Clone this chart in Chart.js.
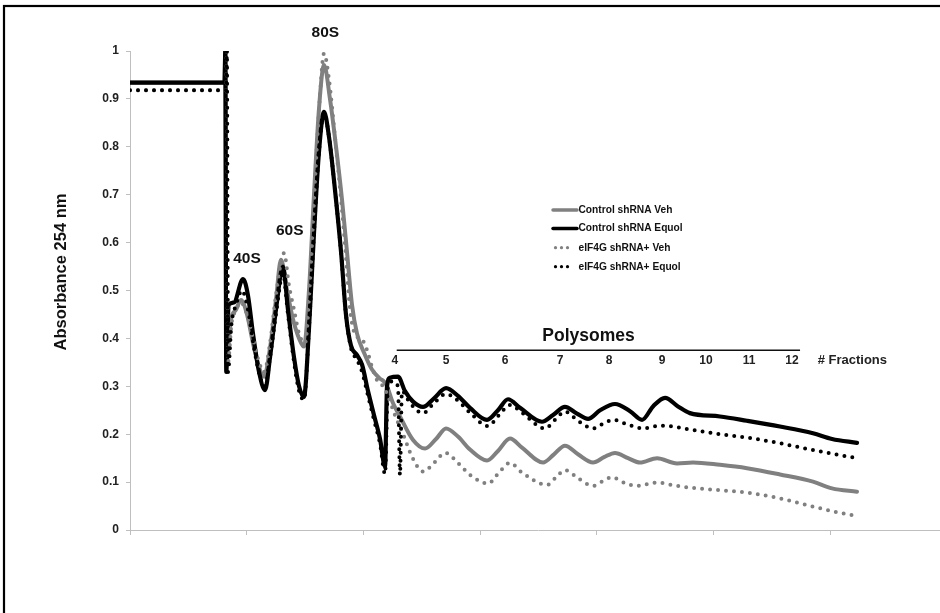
<!DOCTYPE html>
<html>
<head>
<meta charset="utf-8">
<script src="https://cdn.jsdelivr.net/npm/chart.js@4.4.1/dist/chart.umd.min.js"></script>
<style>
  html, body { margin: 0; padding: 0; background: #fff; overflow: hidden; width: 940px; height: 613px; }
  #wrap { position: absolute; left: 0; top: 0; width: 960px; height: 613px; }
  canvas { display: block; }
</style>
</head>
<body>
<div id="wrap"><canvas id="c" width="960" height="613" style="width:960px;height:613px"></canvas></div>
<script>
// ---- data (x = position along gradient, y = absorbance 254 nm) ----
const seriesNames = ['Control shRNA Veh', 'Control shRNA Equol', 'eIF4G shRNA+ Veh', 'eIF4G shRNA+ Equol'];

const ctrlVehX = [0,8.1,8.17,8.25,8.66,9.09,9.51,10.03,10.54,11.06,11.49,12.0,12.51,12.94,13.46,13.97,14.49,14.91,15.34,15.77,16.2,16.63,17.14,17.66,18.17,18.6,19.03,19.46,20.06,20.74,21.43,21.77,22.03,22.54,23.14,24.26,25.29,26.23,27.09,28.11,29.14,30.6,31.54,32.57,33.6,35.4,36.34,37.28,38.4,39.69,40.63,41.57,42.69,43.71,45.17,46.89,48.26,50.57,52.88,55.71,58.54,60.17,62.31];
const ctrlVehY = [0.934,0.934,1.0,0.35,0.44,0.46,0.48,0.45,0.39,0.34,0.32,0.38,0.48,0.564,0.50,0.44,0.40,0.383,0.50,0.70,0.88,0.971,0.90,0.80,0.69,0.58,0.47,0.41,0.37,0.335,0.316,0.31,0.30,0.265,0.237,0.188,0.17,0.19,0.212,0.195,0.168,0.145,0.165,0.191,0.172,0.141,0.158,0.176,0.158,0.141,0.152,0.161,0.15,0.141,0.15,0.139,0.141,0.136,0.129,0.116,0.101,0.087,0.08];

const ctrlEquolX = [0,8.1,8.17,8.25,8.45,8.9,9.69,10.11,10.54,11.06,11.57,12.0,12.51,13.11,13.54,14.06,14.49,14.91,15.34,15.77,16.2,16.63,17.06,17.57,18.09,18.51,18.94,19.46,19.89,20.4,20.91,21.43,21.86,22.03,22.29,22.97,23.57,24.26,25.11,26.06,27.09,28.11,29.14,30.6,31.54,32.4,33.43,35.31,36.26,37.28,38.31,39.26,40.29,41.57,42.86,43.89,44.83,45.86,46.97,47.99,50.57,52.88,55.71,58.54,60.17,62.31];
const ctrlEquolY = [0.934,0.934,1.0,0.33,0.47,0.475,0.524,0.49,0.41,0.33,0.292,0.36,0.46,0.55,0.46,0.36,0.30,0.278,0.42,0.62,0.79,0.873,0.82,0.71,0.58,0.45,0.385,0.365,0.345,0.29,0.24,0.19,0.132,0.30,0.318,0.32,0.29,0.268,0.257,0.275,0.296,0.28,0.255,0.23,0.25,0.273,0.255,0.226,0.24,0.257,0.243,0.232,0.25,0.263,0.248,0.23,0.258,0.276,0.258,0.244,0.237,0.228,0.216,0.202,0.19,0.182];

const eifVehX = [0,8.22,8.3,8.4,8.7,9.09,9.51,10.03,10.54,11.06,11.49,12.0,12.51,13.2,13.63,14.06,14.49,15.0,15.43,15.86,16.29,16.63,17.06,17.57,18.09,18.51,18.86,19.37,19.8,20.31,20.74,21.17,21.69,22.11,22.71,23.49,24.17,25.11,26.06,27.0,28.11,29.14,30.69,31.63,32.57,33.6,35.74,36.51,37.28,38.4,39.69,40.54,41.31,42.43,43.46,45.17,46.89,48.6,50.57,52.88,55.71,58.54,60.43,62.31];
const eifVehY = [0.918,0.918,1.0,0.35,0.43,0.46,0.475,0.45,0.40,0.35,0.33,0.39,0.49,0.578,0.51,0.46,0.41,0.39,0.52,0.73,0.91,0.995,0.94,0.82,0.69,0.57,0.46,0.405,0.40,0.376,0.34,0.313,0.30,0.28,0.24,0.195,0.153,0.122,0.14,0.161,0.14,0.115,0.097,0.12,0.14,0.12,0.094,0.11,0.125,0.108,0.092,0.102,0.11,0.098,0.092,0.099,0.092,0.087,0.083,0.078,0.066,0.049,0.038,0.029];

const eifEquolX = [0,8.22,8.3,8.4,8.7,9.09,9.6,10.11,10.63,11.14,11.57,12.0,12.51,13.11,13.54,14.06,14.49,14.91,15.34,15.77,16.2,16.63,17.06,17.57,18.09,18.51,18.94,19.46,19.89,20.4,20.91,21.43,21.86,22.11,22.46,22.97,23.14,23.31,24.0,25.11,26.06,27.09,28.11,29.14,30.69,31.63,32.57,33.6,35.57,36.43,37.28,38.4,39.69,40.54,41.4,42.69,43.97,45.43,47.99,49.97,53.14,55.71,58.29,60.0,62.31];
const eifEquolY = [0.918,0.918,1.0,0.33,0.43,0.47,0.50,0.46,0.38,0.32,0.30,0.36,0.45,0.535,0.45,0.35,0.29,0.272,0.42,0.62,0.79,0.87,0.82,0.71,0.58,0.45,0.38,0.355,0.33,0.28,0.23,0.18,0.117,0.30,0.31,0.30,0.115,0.29,0.265,0.244,0.265,0.284,0.27,0.245,0.217,0.24,0.261,0.245,0.212,0.23,0.247,0.228,0.212,0.222,0.23,0.22,0.212,0.218,0.21,0.202,0.192,0.181,0.168,0.16,0.15];

const yTickLabels = ['0','0.1','0.2','0.3','0.4','0.5','0.6','0.7','0.8','0.9','1'];

// peak labels (x, y in data units)
const peakNames = ['40S', '60S', '80S'];
const peakX = [10.03, 13.69, 16.74];
const peakY = [0.566, 0.625, 1.038];

// polysome fraction numbers along gradient
const fractionLabels = ['4','5','6','7','8','9','10','11','12'];
const fractionX = [22.71, 27.09, 32.14, 36.86, 41.06, 45.6, 49.37, 53.06, 56.74];
const fractionY = 0.353;
const polysomeSpan = [22.86, 57.43];
const polysomeLineY = 0.376;
const polysomeTextX = 39.3;
const polysomeTextY = 0.395;
const fractionsTitleX = 58.94;

// ---- build ----
const FONT = "'Liberation Sans', Arial, Helvetica, sans-serif";
const GRAY = '#808080';
const BLACK = '#000000';

function pts(xs, ys) { return xs.map((x, i) => ({ x: x, y: ys[i] })); }

const styles = [
  { color: GRAY, dash: [], width: 4, order: 3 },
  { color: BLACK, dash: [], width: 4.2, order: 2 },
  { color: GRAY, dash: [0, 8], width: 4, order: 1 },
  { color: BLACK, dash: [0, 8], width: 4, order: 0 }
];
const seriesData = [pts(ctrlVehX, ctrlVehY), pts(ctrlEquolX, ctrlEquolY), pts(eifVehX, eifVehY), pts(eifEquolX, eifEquolY)];

const datasets = seriesNames.map((n, i) => ({
  label: n,
  data: seriesData[i],
  borderColor: styles[i].color,
  backgroundColor: styles[i].color,
  borderWidth: styles[i].width,
  borderDash: styles[i].dash,
  borderCapStyle: 'round',
  borderJoinStyle: 'round',
  pointRadius: 0,
  cubicInterpolationMode: 'monotone',
  fill: false,
  order: styles[i].order
}));

const decor = {
  id: 'decor',
  beforeDraw(chart) {
    const ctx = chart.ctx;
    ctx.save();
    ctx.fillStyle = '#fff';
    ctx.fillRect(0, 0, chart.width, chart.height);
    ctx.strokeStyle = '#000';
    ctx.lineWidth = 2.2;
    ctx.strokeRect(4, 6, 2000, 2000);
    ctx.restore();
  },
  afterDatasetsDraw(chart) {
    const ctx = chart.ctx;
    const xs = chart.scales.x, ys = chart.scales.y;
    ctx.save();
    ctx.fillStyle = '#111';
    ctx.textAlign = 'center';
    ctx.textBaseline = 'middle';
    // peak labels
    ctx.font = 'bold 15.5px ' + FONT;
    peakNames.forEach((t, i) => ctx.fillText(t, xs.getPixelForValue(peakX[i]), ys.getPixelForValue(peakY[i])));
    // polysomes
    ctx.font = 'bold 17.5px ' + FONT;
    ctx.textBaseline = 'alphabetic';
    ctx.fillText('Polysomes', xs.getPixelForValue(polysomeTextX), ys.getPixelForValue(polysomeTextY));
    ctx.strokeStyle = '#111';
    ctx.lineWidth = 1.5;
    ctx.beginPath();
    const ly = Math.round(ys.getPixelForValue(polysomeLineY)) + 0.25;
    ctx.moveTo(xs.getPixelForValue(polysomeSpan[0]), ly);
    ctx.lineTo(xs.getPixelForValue(polysomeSpan[1]), ly);
    ctx.stroke();
    ctx.textBaseline = 'middle';
    ctx.font = 'bold 12px ' + FONT;
    ctx.fillStyle = '#222';
    fractionLabels.forEach((t, i) => ctx.fillText(t, xs.getPixelForValue(fractionX[i]), ys.getPixelForValue(fractionY)));
    ctx.textAlign = 'left';
    ctx.font = 'bold 13px ' + FONT;
    ctx.fillText('# Fractions', xs.getPixelForValue(fractionsTitleX), ys.getPixelForValue(fractionY));

    // y title
    ctx.save();
    ctx.translate(61, 272);
    ctx.rotate(-Math.PI / 2);
    ctx.textAlign = 'center';
    ctx.font = 'bold 16.5px ' + FONT;
    ctx.fillStyle = '#111';
    ctx.fillText('Absorbance 254 nm', 0, 0);
    ctx.restore();

    // legend
    const rows = [210, 228.5, 247.7, 266.7];
    const lx0 = 553, lx1 = 577;
    ctx.font = 'bold 10.2px ' + FONT;
    ctx.textAlign = 'left';
    ctx.textBaseline = 'middle';
    seriesNames.forEach((n, i) => {
      const y = rows[i];
      ctx.strokeStyle = styles[i].color;
      ctx.fillStyle = styles[i].color;
      if (styles[i].dash.length === 0) {
        ctx.lineWidth = 3.5;
        ctx.lineCap = 'round';
        ctx.beginPath();
        ctx.moveTo(lx0, y);
        ctx.lineTo(lx1, y);
        ctx.stroke();
      } else {
        [555.5, 561.5, 567.5].forEach(dx => {
          ctx.beginPath();
          ctx.arc(dx, y, 1.6, 0, Math.PI * 2);
          ctx.fill();
        });
      }
      ctx.fillStyle = '#111';
      ctx.fillText(n, 578.5, y);
    });
    ctx.restore();
  }
};

new Chart(document.getElementById('c'), {
  type: 'line',
  data: { datasets: datasets },
  options: {
    responsive: false,
    animation: false,
    devicePixelRatio: 1,
    layout: { padding: { left: 0, right: 13.3, top: 51, bottom: 0 } },
    plugins: { legend: { display: false }, tooltip: { enabled: false }, title: { display: false } },
    scales: {
      x: {
        type: 'linear',
        min: 0, max: 70,
        border: { color: '#bfbfbf', width: 1 },
        grid: { drawOnChartArea: false, drawTicks: true, tickLength: 5, color: '#bfbfbf' },
        ticks: { stepSize: 10, callback: () => '', maxRotation: 0, padding: 0 },
        afterFit(s) { s.height = 83; }
      },
      y: {
        min: 0, max: 1,
        border: { color: '#bfbfbf', width: 1 },
        grid: { drawOnChartArea: false, drawTicks: true, tickLength: 4, color: '#bfbfbf' },
        ticks: {
          stepSize: 0.1,
          padding: 7,
          color: '#222',
          font: { family: FONT, size: 12, weight: 'bold' },
          callback: (v) => yTickLabels[Math.round(v * 10)]
        },
        afterFit(s) { s.width = 130; }
      }
    }
  },
  plugins: [decor]
});
</script>
</body>
</html>
